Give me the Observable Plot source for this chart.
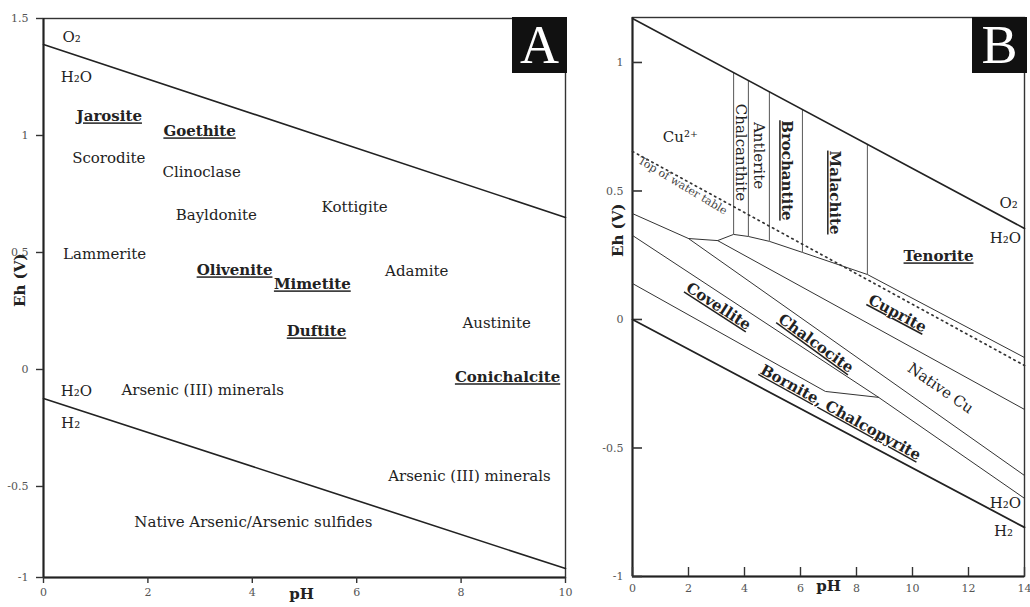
<!DOCTYPE html>
<html><head><meta charset="utf-8">
<script src="https://cdn.jsdelivr.net/npm/d3@7"></script>
<script src="https://cdn.jsdelivr.net/npm/@observablehq/plot@0.6"></script>
<style>
body{margin:0;background:#fff;}
#wrap{position:relative;width:1030px;height:607px;overflow:hidden;background:#fff;}
.panel{position:absolute;top:0;}
.badge{position:absolute;background:#111;color:#fff;font-family:"Liberation Serif",serif;font-size:54px;line-height:56px;text-align:center;}
</style></head><body>
<div id="wrap"></div>
<script>
// ---------- Panel A data ----------
const aTicksX = [0, 2, 4, 6, 8, 10];
const aTicksY = [-1, -0.5, 0, 0.5, 1, 1.5];
// the printed Eh axis of panel A is compressed below -0.5 (the -0.5 to -1 interval is shorter)
const aAxisBreak = -0.5, aAxisCompression = 0.778;
const aUpperPH = [0, 10];
const aUpperEh = [1.389, 0.65];
const aLowerPH = [0, 5.18, 10];
const aLowerEh = [-0.124, -0.5, -0.951];
const aLabelText = ["O₂", "H₂O", "Jarosite", "Goethite", "Scorodite", "Clinoclase", "Bayldonite", "Kottigite",
  "Lammerite", "Olivenite", "Mimetite", "Adamite", "Duftite", "Austinite", "Conichalcite",
  "H₂O", "H₂", "Arsenic (III) minerals", "Arsenic (III) minerals", "Native Arsenic/Arsenic sulfides"];
const aLabelPH = [0.54, 0.63, 1.26, 2.99, 1.25, 3.03, 3.31, 5.96, 1.17, 3.66, 5.15, 7.15, 5.23, 8.68, 8.89, 0.63, 0.52, 3.05, 8.16, 4.02];
const aLabelEh = [1.419, 1.248, 1.081, 1.017, 0.902, 0.842, 0.658, 0.692, 0.491, 0.423, 0.363, 0.419, 0.162, 0.197, -0.034, -0.094, -0.231, -0.090, -0.457, -0.698];
const aLabelBold = [0, 0, 1, 1, 0, 0, 0, 0, 0, 1, 1, 0, 1, 0, 1, 0, 0, 0, 0, 0];

// ---------- Panel B data ----------
const bTicksX = [0, 2, 4, 6, 8, 10, 12, 14];
const bTicksY = [-1, -0.5, 0, 0.5, 1];
const bO2PH = [0, 14], bO2Eh = [1.171, 0.354];
const bH2PH = [0, 14], bH2Eh = [0, -0.809];
const bWaterPH = [0, 14], bWaterEh = [0.654, -0.179];
const bL1PH = [0, 2.0, 3.04, 3.61, 4.14, 4.89, 6.07, 8.39, 14];
const bL1Eh = [0.412, 0.315, 0.307, 0.331, 0.323, 0.304, 0.261, 0.175, -0.148];
const bCupritePH = [3.04, 14], bCupriteEh = [0.307, -0.350];
const bNativePH = [2.0, 14], bNativeEh = [0.315, -0.607];
const bL2PH = [0, 8.79, 14], bL2Eh = [0.327, -0.303, -0.696];
const bL3PH = [0, 6.89, 8.79], bL3Eh = [0.140, -0.280, -0.303];
const bVertPH = [3.61, 4.14, 4.89, 6.07, 8.39];
const bVertTop = [0.960, 0.929, 0.885, 0.817, 0.681];
const bVertBottom = [0.331, 0.323, 0.304, 0.261, 0.175];
const bLabelText = ["Cu²⁺", "Chalcanthite", "Antlerite", "Brochantite", "Malachite", "Tenorite", "O₂", "H₂O",
  "Cuprite", "Native Cu", "Chalcocite", "Covellite", "Bornite, Chalcopyrite", "H₂O", "H₂"];
const bLabelPH = [1.71, 3.86, 4.5, 5.5, 7.21, 10.93, 13.43, 13.32, 9.46, 11.0, 6.55, 3.07, 7.43, 13.32, 13.25];
const bLabelEh = [0.708, 0.650, 0.638, 0.580, 0.494, 0.245, 0.451, 0.315, 0.023, -0.268, -0.093, 0.051, -0.362, -0.716, -0.825];
const bLabelRot = [0, 90, 90, 90, 90, 0, 0, 0, 28, 35, 36, 33, 29, 0, 0];
const bLabelBold = [0, 0, 0, 1, 1, 1, 0, 0, 1, 0, 1, 1, 1, 0, 0];
const bWaterLabel = ["Top of water table"], bWaterLabelPH = [1.79], bWaterLabelEh = [0.521], bWaterLabelRot = [31];

// ---------- helpers ----------
const serif = '"DejaVu Serif", serif';
const pts = (xs, ys, key) => xs.map((x, i) => ({pH: x, Eh: ys[i], k: key}));
const labels = (t, xs, ys, bold, rot) => t.map((s, i) => ({text: s, pH: xs[i], Eh: ys[i], bold: !!bold[i], rot: rot ? rot[i] : 0}));
const fmt = d => String(d);
const aWarp = v => v < aAxisBreak ? aAxisBreak + (v - aAxisBreak) * aAxisCompression : v;
const aUnwarp = v => v < aAxisBreak ? aAxisBreak + (v - aAxisBreak) / aAxisCompression : v;

// ---------- Panel A ----------
const aLab = labels(aLabelText, aLabelPH, aLabelEh, aLabelBold);
const chartA = Plot.plot({
  width: 580, height: 607,
  marginLeft: 43, marginRight: 15, marginTop: 18, marginBottom: 30,
  x: {domain: [0, 10], range: [43, 565]},
  y: {domain: [aWarp(-1), 1.5], range: [577, 18], transform: aWarp},
  style: {fontFamily: serif, background: "white", overflow: "visible"},
  marks: [
    Plot.frame({stroke: "#333", strokeWidth: 1.4}),
    Plot.ruleX([0], {stroke: "#222", strokeWidth: 2}),
    Plot.ruleY([-1], {stroke: "#222", strokeWidth: 2}),
    Plot.axisX({ticks: aTicksX, tickSize: 6, tickPadding: 5, tickFormat: fmt, label: null, fontSize: 11, fill: "#555", stroke: "#333", strokeWidth: 1.4}),
    Plot.axisY({ticks: aTicksY.map(aWarp), tickSize: 7, tickPadding: 8, tickFormat: d => String(+aUnwarp(d).toFixed(2)), label: null, fontSize: 11, fill: "#555", stroke: "#333", strokeWidth: 1.4}),
    Plot.line(pts(aUpperPH, aUpperEh, "u"), {x: "pH", y: "Eh", stroke: "#222", strokeWidth: 1.6}),
    Plot.line(pts(aLowerPH, aLowerEh, "l"), {x: "pH", y: "Eh", stroke: "#222", strokeWidth: 1.6}),
    Plot.text(aLab.filter(d => !d.bold), {x: "pH", y: "Eh", text: "text", fontSize: 15, fill: "#222"}),
    Plot.text(aLab.filter(d => d.bold), {x: "pH", y: "Eh", text: "text", fontSize: 15, fontWeight: "bold", fill: "#222"}),
    Plot.text(["Eh (V)"], {frameAnchor: "left", dx: -23, dy: 9, rotate: -90, fontSize: 15, fontWeight: "bold", fill: "#222"}),
    Plot.text(["pH"], {frameAnchor: "bottom", dx: -3, dy: 21, fontSize: 15, fontWeight: "bold", fill: "#222"})
  ]
});

// ---------- Panel B ----------
const bLab = labels(bLabelText, bLabelPH, bLabelEh, bLabelBold, bLabelRot);
const thin = [
  ...pts(bL1PH, bL1Eh, "L1"), ...pts(bCupritePH, bCupriteEh, "cu"), ...pts(bNativePH, bNativeEh, "nc"),
  ...pts(bL2PH, bL2Eh, "L2"), ...pts(bL3PH, bL3Eh, "L3")
];
const verts = bVertPH.map((x, i) => ({pH: x, top: bVertTop[i], bottom: bVertBottom[i]}));
const wl = bWaterLabel.map((t, i) => ({text: t, pH: bWaterLabelPH[i], Eh: bWaterLabelEh[i], rot: bWaterLabelRot[i]}));
const chartB = Plot.plot({
  width: 450, height: 607,
  marginLeft: 52, marginRight: 6, marginTop: 17, marginBottom: 31,
  x: {domain: [0, 14], range: [52, 444]},
  y: {domain: [-1, 1.175], range: [576, 17]},
  style: {fontFamily: serif, background: "white", overflow: "visible"},
  marks: [
    Plot.frame({stroke: "#333", strokeWidth: 1.4}),
    Plot.ruleX([0], {stroke: "#222", strokeWidth: 2}),
    Plot.ruleY([-1], {stroke: "#222", strokeWidth: 2}),
    Plot.axisX({ticks: bTicksX, tickSize: -9, tickPadding: 17, tickFormat: fmt, label: null, fontSize: 11, fill: "#555", stroke: "#333", strokeWidth: 1.4}),
    Plot.axisY({ticks: bTicksY, tickSize: -10, tickPadding: 19, tickFormat: fmt, label: null, fontSize: 11, fill: "#555", stroke: "#333", strokeWidth: 1.6}),
    Plot.ruleX(verts, {x: "pH", y1: "bottom", y2: "top", stroke: "#666", strokeWidth: 1.1}),
    Plot.line(thin, {x: "pH", y: "Eh", z: "k", stroke: "#333", strokeWidth: 1}),
    Plot.line(pts(bWaterPH, bWaterEh, "w"), {x: "pH", y: "Eh", stroke: "#333", strokeWidth: 1.7, strokeDasharray: "1.5,4"}),
    Plot.line(pts(bO2PH, bO2Eh, "o"), {x: "pH", y: "Eh", stroke: "#222", strokeWidth: 1.6}),
    Plot.line(pts(bH2PH, bH2Eh, "h"), {x: "pH", y: "Eh", stroke: "#222", strokeWidth: 1.8}),
    Plot.text(bLab.filter(d => !d.bold), {x: "pH", y: "Eh", text: "text", rotate: "rot", fontSize: 15, fill: "#222"}),
    Plot.text(bLab.filter(d => d.bold), {x: "pH", y: "Eh", text: "text", rotate: "rot", fontSize: 15, fontWeight: "bold", fill: "#222"}),
    Plot.text(wl, {x: "pH", y: "Eh", text: "text", rotate: "rot", fontSize: 11, fill: "#444"}),
    Plot.text(["Eh (V)"], {frameAnchor: "left", dx: -14, dy: -40, rotate: -90, fontSize: 15, fontWeight: "bold", fill: "#222"}),
    Plot.text(["pH"], {frameAnchor: "bottom", dx: 0, dy: 14, fontSize: 15, fontWeight: "bold", fill: "#222"})
  ]
});

const boldSet = new Set([...aLab.filter(d => d.bold).map(d => d.text), ...bLab.filter(d => d.bold).map(d => d.text)]);
for (const svg of [chartA, chartB]) {
  d3.select(svg).selectAll("g").filter(function () { return this.getAttribute("font-weight") === "bold"; })
    .selectAll("text").filter(function () { return boldSet.has(this.textContent); })
    .style("text-decoration", "underline");
}

const wrap = document.getElementById("wrap");
chartA.classList.add("panel"); chartA.style.left = "0px";
chartB.classList.add("panel"); chartB.style.left = "580px";
wrap.appendChild(chartA);
wrap.appendChild(chartB);

for (const [letter, left] of [["A", 512], ["B", 972]]) {
  const b = document.createElement("div");
  b.className = "badge";
  b.textContent = letter;
  b.style.left = left + "px"; b.style.top = "17px";
  b.style.width = "55px"; b.style.height = "56px";
  wrap.appendChild(b);
}
</script>
</body></html>
